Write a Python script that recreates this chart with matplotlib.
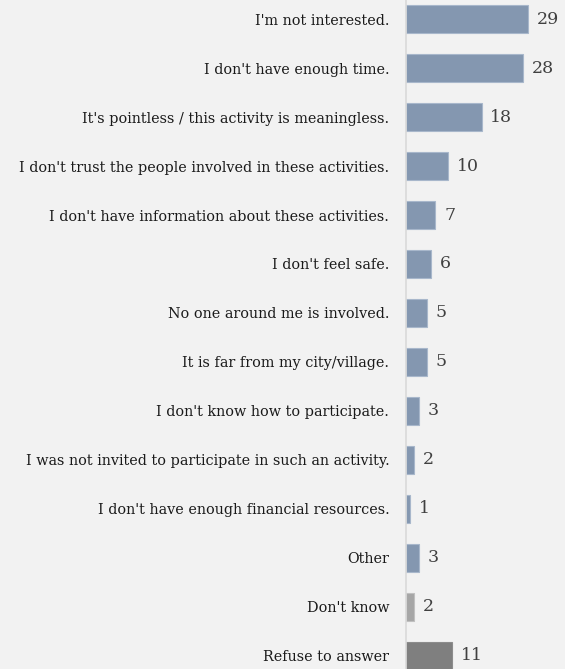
import matplotlib.pyplot as plt

reasons = [
    "I'm not interested.",
    "I don't have enough time.",
    "It's pointless / this activity is meaningless.",
    "I don't trust the people involved in these activities.",
    "I don't have information about these activities.",
    "I don't feel safe.",
    "No one around me is involved.",
    "It is far from my city/village.",
    "I don't know how to participate.",
    "I was not invited to participate in such an activity.",
    "I don't have enough financial resources.",
    "Other",
    "Don't know",
    "Refuse to answer",
]
shares = [29, 28, 18, 10, 7, 6, 5, 5, 3, 2, 1, 3, 2, 11]

blue = "#8497B0"
colors = [blue] * 12 + ["#A6A6A6", "#7F7F7F"]
edges = ["#A8B7CB"] * 12 + ["#C0C0C0", "#8C8C8C"]

bg = "#F2F2F2"
fig = plt.figure(figsize=(5.65, 6.69), dpi=100, facecolor=bg)
ax = fig.add_axes([406 / 565, 0, 159 / 565, 1])
ax.set_facecolor(bg)

ypos = list(range(len(reasons)))
ax.barh(ypos, shares, height=0.57, color=colors, edgecolor=edges, linewidth=0.8)

ax.set_xlim(0, 37.9)
ax.set_ylim(13.27, -0.39)

for y, v in zip(ypos, shares):
    ax.text(v + 2.1, y, str(v), va="center", ha="left",
            fontsize=12.5, color="#404040", family="DejaVu Serif")

ax.set_yticks(ypos)
ax.set_yticklabels(reasons, fontsize=10.35, color="#1a1a1a", family="DejaVu Serif")
ax.tick_params(axis="y", length=0, pad=12)
ax.set_xticks([])

for s in ["top", "right", "bottom"]:
    ax.spines[s].set_visible(False)
ax.spines["left"].set_color("#D9D9D9")
ax.spines["left"].set_linewidth(1.2)

fig.savefig("out.png", dpi=100, facecolor=bg)
